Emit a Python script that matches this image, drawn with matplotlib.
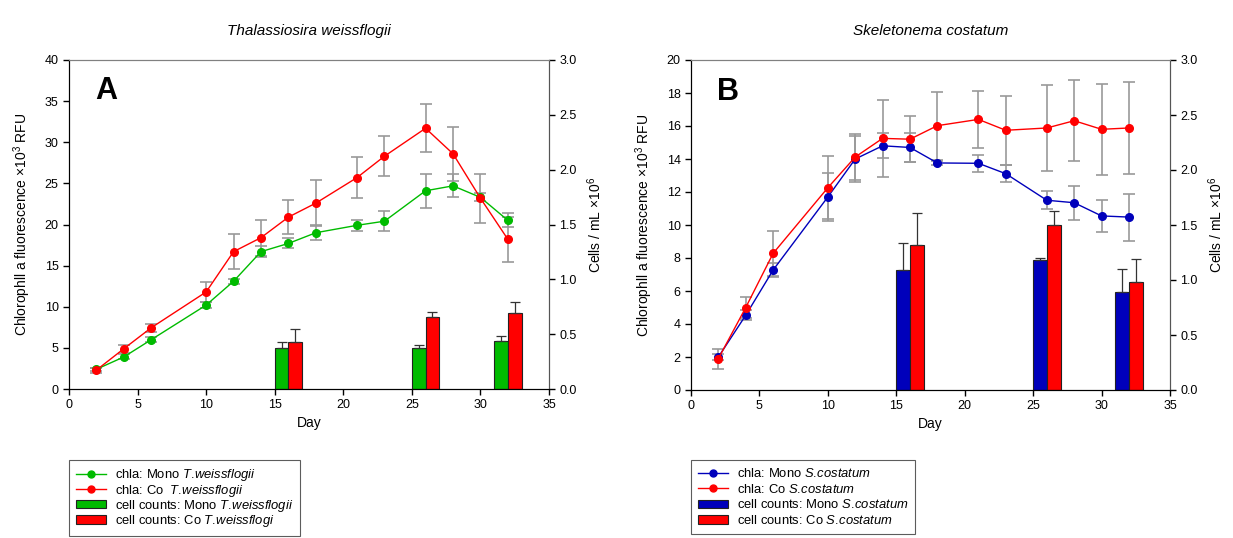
import numpy as np
import matplotlib.pyplot as plt
from matplotlib.patches import Patch
from matplotlib.lines import Line2D

plt.rcParams['font.family'] = ['Liberation Sans', 'DejaVu Sans']
plt.rcParams['mathtext.fontset'] = 'custom'
plt.rcParams['mathtext.rm'] = 'Liberation Sans'
plt.rcParams['mathtext.it'] = 'Liberation Sans:italic'
plt.rcParams['mathtext.bf'] = 'Liberation Sans:bold'

# Datos: días de muestreo
days = [2, 4, 6, 10, 12, 14, 16, 18, 21, 23, 26, 28, 30, 32]

# Panel A: Thalassiosira weissflogii (chla, x10^3 RFU)
tw_mono = [2.4, 3.9, 6.0, 10.2, 13.1, 16.7, 17.7, 19.0, 19.9, 20.4, 24.1, 24.7, 23.3, 20.5]
tw_mono_err = [0.2, 0.3, 0.3, 0.4, 0.3, 0.65, 0.6, 0.9, 0.7, 1.25, 2.1, 1.4, 0.5, 0.85]
tw_co = [2.3, 4.9, 7.45, 11.8, 16.7, 18.4, 20.9, 22.6, 25.7, 28.3, 31.7, 28.6, 23.2, 18.2]
tw_co_err = [0.3, 0.5, 0.5, 1.2, 2.1, 2.2, 2.1, 2.8, 2.5, 2.4, 2.9, 3.3, 3.0, 2.7]

# Panel B: Skeletonema costatum
sc_mono = [2.0, 4.53, 7.27, 11.7, 14.0, 14.8, 14.7, 13.76, 13.74, 13.11, 11.5, 11.35, 10.55, 10.48]
sc_mono_err = [0.2, 0.3, 0.44, 1.43, 1.4, 0.75, 0.9, 0.1, 0.5, 0.5, 0.55, 1.03, 0.96, 1.42]
sc_co = [1.9, 5.0, 8.28, 12.26, 14.12, 15.25, 15.2, 16.02, 16.4, 15.74, 15.88, 16.32, 15.8, 15.88]
sc_co_err = [0.6, 0.65, 1.35, 1.9, 1.4, 2.33, 1.4, 2.06, 1.74, 2.1, 2.6, 2.47, 2.75, 2.79]

# Conteos celulares (x10^6 cells/mL)
cell_days = [16, 26, 32]
tw_cell_mono = [0.37, 0.37, 0.44]
tw_cell_mono_err = [0.06, 0.03, 0.04]
tw_cell_co = [0.425, 0.66, 0.69]
tw_cell_co_err = [0.125, 0.04, 0.10]
sc_cell_mono = [1.09, 1.18, 0.89]
sc_cell_mono_err = [0.25, 0.02, 0.21]
sc_cell_co = [1.32, 1.50, 0.98]
sc_cell_co_err = [0.29, 0.13, 0.21]

green = '#00bb00'
red = '#ff0000'
blue = '#0000bb'
gray = '#999999'

fig = plt.figure(figsize=(12.33, 5.38), dpi=100)


def panel(rect, title, letter, mono, mono_err, co, co_err, cmono, cmono_err, cco, cco_err,
          mcol, ylim, yticks, labels, leg_x, lspace):
    ax = fig.add_axes(rect)
    ax2 = ax.twinx()
    # barras (eje derecho)
    cd = np.array(cell_days)
    ax2.bar(cd - 0.5, cmono, width=1.0, color=mcol, edgecolor='#222222', linewidth=0.8, zorder=2)
    ax2.bar(cd + 0.5, cco, width=1.0, color=red, edgecolor='#222222', linewidth=0.8, zorder=2)
    ax2.errorbar(cd - 0.5, cmono, yerr=[np.zeros(3), cmono_err], fmt='none', ecolor='#333333',
                 elinewidth=0.9, capsize=3.5, capthick=0.9, zorder=3)
    ax2.errorbar(cd + 0.5, cco, yerr=[np.zeros(3), cco_err], fmt='none', ecolor='#333333',
                 elinewidth=0.9, capsize=3.5, capthick=0.9, zorder=3)
    # líneas (eje izquierdo), dibujadas encima
    ax.set_zorder(ax2.get_zorder() + 1)
    ax.patch.set_visible(False)
    ax.errorbar(days, mono, yerr=mono_err, fmt='none', ecolor=gray, elinewidth=1.2,
                capsize=4, capthick=1.2, zorder=2)
    ax.errorbar(days, co, yerr=co_err, fmt='none', ecolor=gray, elinewidth=1.2,
                capsize=4, capthick=1.2, zorder=2)
    ax.plot(days, mono, color=mcol, lw=1, marker='o', ms=5.5, zorder=3)
    ax.plot(days, co, color=red, lw=1, marker='o', ms=5.5, zorder=4)

    ax.set_xlim(0, 35)
    ax.set_xticks(range(0, 36, 5))
    ax.set_ylim(*ylim)
    ax.set_yticks(yticks)
    ax2.set_ylim(0, 3.0)
    ax2.set_yticks(np.arange(0, 3.01, 0.5))
    ax2.set_yticklabels(['%.1f' % v for v in np.arange(0, 3.01, 0.5)])
    for a in (ax, ax2):
        a.tick_params(direction='out', length=4, width=1, labelsize=9)
        a.spines['top'].set_color('#808080')
        a.spines['right'].set_color('#555555')
    ax.set_xlabel('Day', fontsize=10, labelpad=3)
    ax.set_ylabel(r'Chlorophll a fluorescence ×10$^3$ RFU', fontsize=10, labelpad=8)
    ax2.set_ylabel(r'Cells / mL ×10$^6$', fontsize=10, labelpad=6)
    ax.set_title(title, fontsize=11, style='italic', pad=18)
    ax.text(0.055, 0.95, letter, transform=ax.transAxes, fontsize=22, fontweight='bold',
            va='top', ha='left')

    handles = [
        Line2D([], [], color=mcol, lw=1, marker='o', ms=5),
        Line2D([], [], color=red, lw=1, marker='o', ms=5),
        Patch(facecolor=mcol, edgecolor='#222222', linewidth=0.8),
        Patch(facecolor=red, edgecolor='#222222', linewidth=0.8),
    ]
    leg = fig.legend(handles, labels, loc='upper left', bbox_to_anchor=(leg_x, 1 - 460 / 538),
                     fontsize=9.4, frameon=True, fancybox=False, edgecolor='#333333',
                     handlelength=2.3, handleheight=0.6, labelspacing=lspace, borderpad=0.55,
                     handletextpad=0.65, borderaxespad=0)
    leg.get_frame().set_linewidth(0.8)
    return ax


panel([69 / 1233, 1 - 389 / 538, 480 / 1233, 329 / 538], 'Thalassiosira weissflogii', 'A',
      tw_mono, tw_mono_err, tw_co, tw_co_err,
      tw_cell_mono, tw_cell_mono_err, tw_cell_co, tw_cell_co_err,
      green, (0, 40), range(0, 41, 5),
      [r'chla: Mono $\mathit{T.\!weissflogii}$', r'chla: Co  $\mathit{T.\!weissflogii}$',
       r'cell counts: Mono $\mathit{T.\!weissflogii}$', r'cell counts: Co $\mathit{T.\!weissflogi}$'],
      69 / 1233, -0.05)

panel([691 / 1233, 1 - 390 / 538, 479 / 1233, 330 / 538], 'Skeletonema costatum', 'B',
      sc_mono, sc_mono_err, sc_co, sc_co_err,
      sc_cell_mono, sc_cell_mono_err, sc_cell_co, sc_cell_co_err,
      blue, (0, 20), range(0, 21, 2),
      [r'chla: Mono $\mathit{S.\!costatum}$', r'chla: Co $\mathit{S.\!costatum}$',
       r'cell counts: Mono $\mathit{S.\!costatum}$', r'cell counts: Co $\mathit{S.\!costatum}$'],
      691 / 1233, 0.2)

plt.savefig('out.png', dpi=100)
